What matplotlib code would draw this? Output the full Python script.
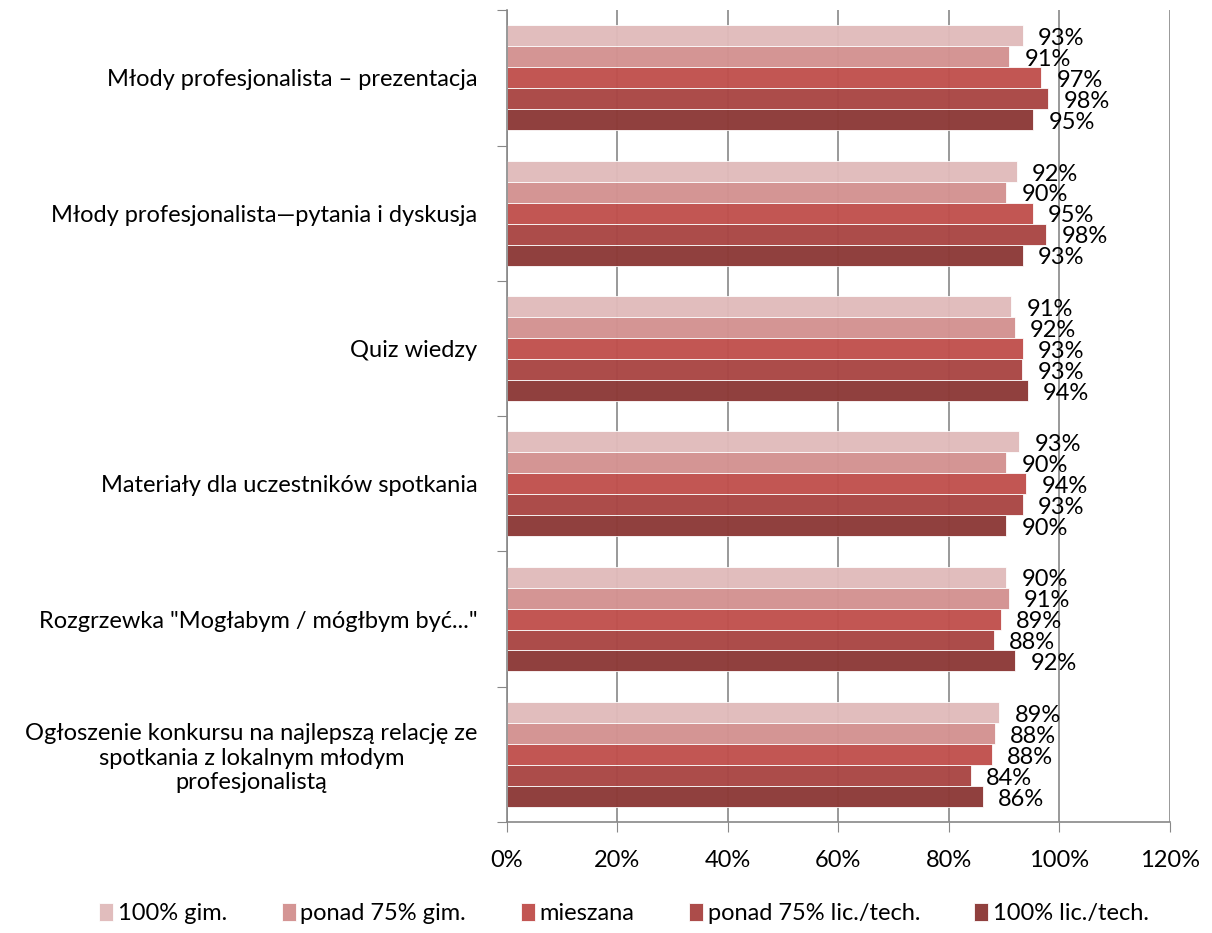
import numpy as np
import matplotlib.pyplot as plt

plt.rcParams['font.family'] = ['Lato', 'DejaVu Sans']

categories = [
    "Młody profesjonalista – prezentacja",
    "Młody profesjonalista—pytania i dyskusja",
    "Quiz wiedzy",
    "Materiały dla uczestników spotkania",
    "Rozgrzewka \"Mogłabym / mógłbym być...\"",
    "Ogłoszenie konkursu na najlepszą relację ze\nspotkania z lokalnym młodym\nprofesjonalistą",
]
series = ["100% gim.", "ponad 75% gim.", "mieszana", "ponad 75% lic./tech.", "100% lic./tech."]
values = [
    [93.4, 92.3, 91.3, 92.8, 90.4, 89.2],   # 100% gim.
    [91.0, 90.4, 92.0, 90.4, 90.9, 88.4],   # ponad 75% gim.
    [96.8, 95.2, 93.4, 94.1, 89.4, 87.8],   # mieszana
    [98.0, 97.7, 93.3, 93.4, 88.2, 84.0],   # ponad 75% lic./tech.
    [95.3, 93.4, 94.3, 90.4, 92.1, 86.2],   # 100% lic./tech.
]
colors = ["#E0BBBB", "#D39291", "#C0504D", "#A94644", "#8D3A37"]
xticks = [0, 20, 40, 60, 80, 100, 120]

fig = plt.figure(figsize=(12.12, 9.33), dpi=100)
ax = fig.add_axes([0.418, 0.119, 0.547, 0.870])

n = len(categories)
centers = np.arange(n)[::-1] + 0.5   # first category at top
bh = 0.155
for j, (name, vals) in enumerate(zip(series, values)):
    y = centers + (2 - j) * bh
    ax.barh(y, vals, height=bh, color=colors[j], edgecolor="white",
            linewidth=0.6, label=name, zorder=2, alpha=0.97)
    for yy, v in zip(y, vals):
        ax.annotate(f"{round(v)}%", (v, yy), xytext=(11, -2), textcoords="offset points",
                    ha="left", va="center", fontsize=17, color="black", zorder=3)

ax.set_xlim(0, 120)
ax.set_ylim(0, n)
ax.set_xticks(xticks)
ax.set_xticklabels([f"{t}%" for t in xticks], fontsize=17)
ax.set_yticks(np.arange(n + 1))
ax.set_yticklabels([])
ax.set_yticks(centers, minor=True)
ax.set_yticklabels(categories, minor=True, fontsize=17, multialignment="center")
ax.tick_params(axis="y", which="minor", length=0, pad=21)
ax.tick_params(axis="y", which="major", length=7, color="#888888", direction="out")
ax.tick_params(axis="x", length=7, color="#888888", direction="out", pad=13)
ax.grid(axis="x", color="#888888", linewidth=1.2, zorder=0)
ax.set_axisbelow(True)
for s in ["top", "right"]:
    ax.spines[s].set_visible(False)
for s in ["left", "bottom"]:
    ax.spines[s].set_color("#888888")
    ax.spines[s].set_linewidth(1.2)

fig.legend(loc="center", bbox_to_anchor=(0.515, 0.021), ncol=5, frameon=False,
           fontsize=17, handlelength=0.6, handleheight=0.8, handletextpad=0.2,
           columnspacing=2.3)

fig.savefig("out.png", dpi=100)
